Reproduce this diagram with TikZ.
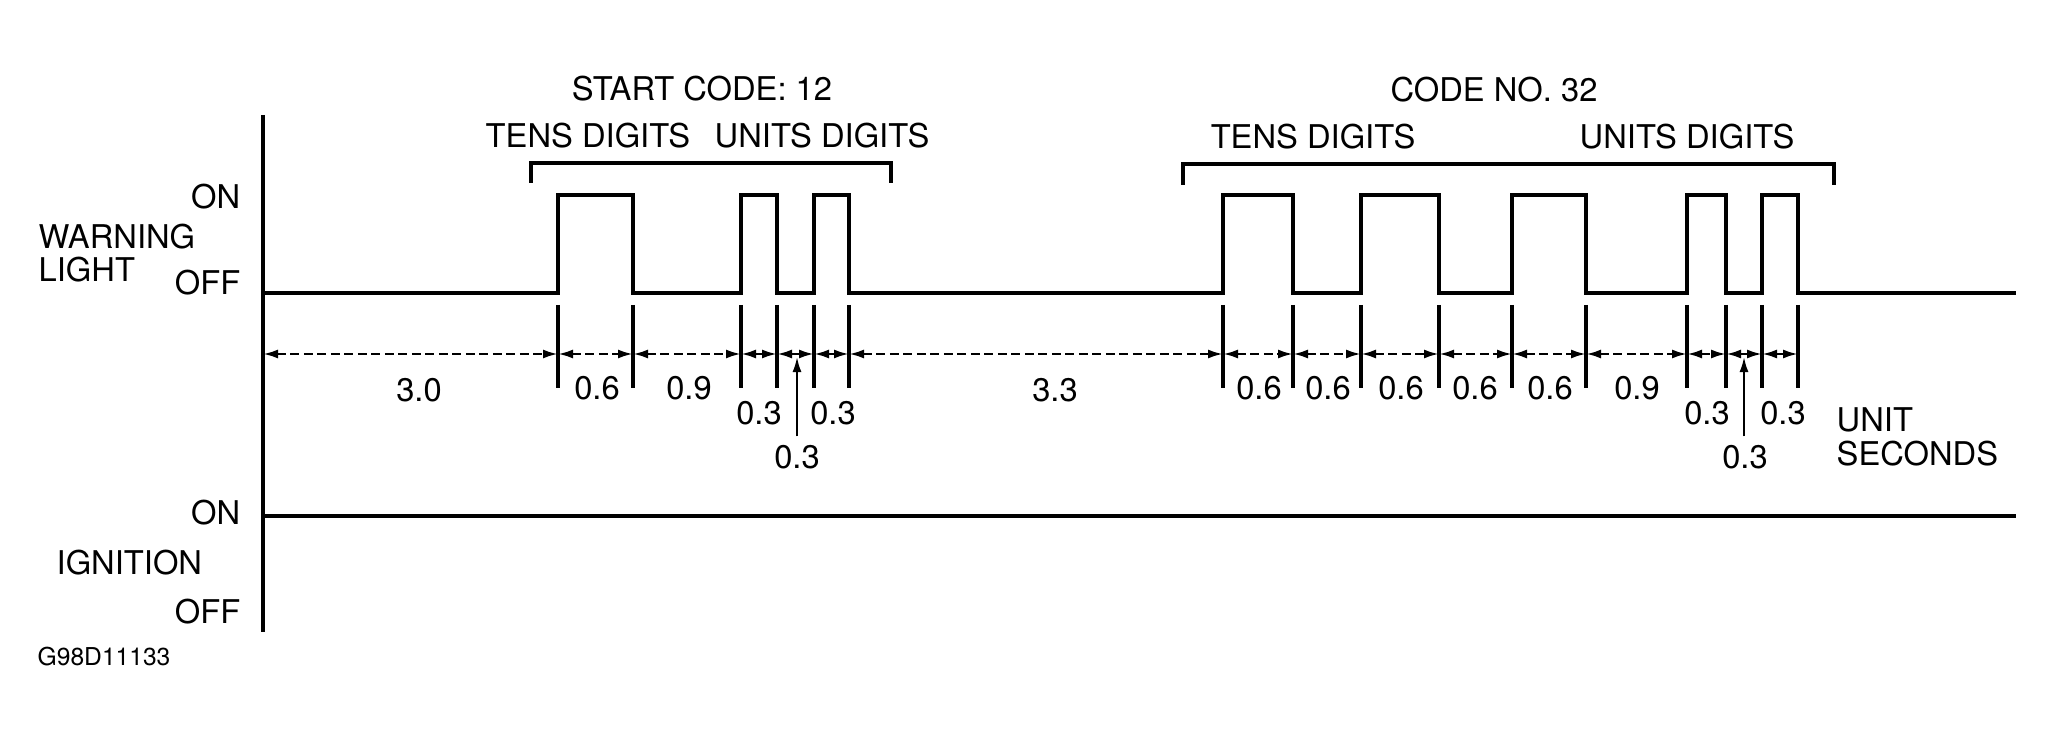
\documentclass[tikz,border=0pt]{standalone}
\usepackage{fontspec}
\setmainfont{TeX Gyre Heros}
\usetikzlibrary{arrows.meta}

\begin{document}
\begin{tikzpicture}[
        x=0.01cm, y=-0.01cm,
        lbl/.style={inner sep=0pt, font=\fontsize{9.3}{9.6}\selectfont},
        sig/.style={line width=1.15pt},
        axis/.style={line width=1.4pt},
        tick/.style={line width=1.1pt},
        dim/.style={{Latex[length=0.15cm,width=0.09cm]}-{Latex[length=0.15cm,width=0.09cm]}, dash pattern=on 0.09cm off 0.045cm, line width=0.7pt},
        ptr/.style={-{Latex[length=0.15cm,width=0.09cm]}, line width=0.6pt}
    ]
    \useasboundingbox (0,0) rectangle (2055,740);

    % Left labels
    \node[lbl, anchor=east] (onwl) at (241,197) {ON};
    \node[lbl, anchor=west, align=left] (wl) at (38,253) {WARNING\\LIGHT};
    \node[lbl, anchor=east] (offwl) at (241,283) {OFF};
    \node[lbl, anchor=east] (onig) at (241,513) {ON};
    \node[lbl, anchor=west] (ig) at (56,563) {IGNITION};
    \node[lbl, anchor=east] (offig) at (241,612) {OFF};
    \node[lbl, anchor=west, font=\fontsize{7}{8}\selectfont] (figno) at (37,657) {G98D11133};

    % Axis, warning light signal and ignition
    \draw[axis] (263,115) -- (263,632);
    \draw[sig] (263,293) -- (558,293) -- (558,195) -- (633,195) -- (633,293)
        -- (741,293) -- (741,195) -- (777,195) -- (777,293)
        -- (814,293) -- (814,195) -- (849,195) -- (849,293)
        -- (1223,293) -- (1223,195) -- (1293,195) -- (1293,293)
        -- (1361,293) -- (1361,195) -- (1439,195) -- (1439,293)
        -- (1512,293) -- (1512,195) -- (1586,195) -- (1586,293)
        -- (1687,293) -- (1687,195) -- (1726,195) -- (1726,293)
        -- (1762,293) -- (1762,195) -- (1798,195) -- (1798,293) -- (2016,293);
    \draw[sig] (263,516) -- (2016,516);

    % Code groups
    \node[lbl] (start) at (702,89) {START CODE: 12};
    \node[lbl] (tens1) at (588,136) {TENS DIGITS};
    \node[lbl] (units1) at (822,136) {UNITS DIGITS};
    \draw[sig] (531,183) |- (891,163) -- (891,183);
    \node[lbl] (code) at (1494,90) {CODE NO. 32};
    \node[lbl] (tens2) at (1313,137) {TENS DIGITS};
    \node[lbl] (units2) at (1687,137) {UNITS DIGITS};
    \draw[sig] (1183,185) |- (1834,164) -- (1834,185);

    % Timing ticks and dimension arrows
    \foreach \x in {558,633,741,777,814,849,1223,1293,1361,1439,1512,1586,1687,1726,1762,1798}
        \draw[tick] (\x,305) -- (\x,388);
    \foreach \x [count=\i] in {263,558,633,741,777,814,849,1223,1293,1361,1439,1512,1586,1687,1726,1762,1798}
        \coordinate (d\i) at (\x,354);
    \foreach \i [evaluate=\i as \j using int(\i+1)] in {1,...,16}
        \draw[dim] (d\i) -- (d\j);

    % Durations
    \foreach \x/\y/\t [count=\i] in {419/390/3.0, 597/388/0.6, 689/388/0.9, 759/413/0.3, 797/457/0.3, 833/413/0.3,
        1055/390/3.3, 1259/388/0.6, 1328/388/0.6, 1401/388/0.6, 1475/388/0.6, 1550/388/0.6, 1637/388/0.9,
        1707/413/0.3, 1745/457/0.3, 1783/413/0.3}
        \node[lbl] (v\i) at (\x,\y) {\t};
    \coordinate (p1) at (797,357);
    \coordinate (p2) at (1744,357);
    \draw[ptr] (v5.north -| p1) ++(0,-8) -- (p1);
    \draw[ptr] (v15.north -| p2) ++(0,-8) -- (p2);
    \node[lbl, anchor=west, align=left] (unit) at (1836,437) {UNIT\\SECONDS};

\end{tikzpicture}
\end{document}
